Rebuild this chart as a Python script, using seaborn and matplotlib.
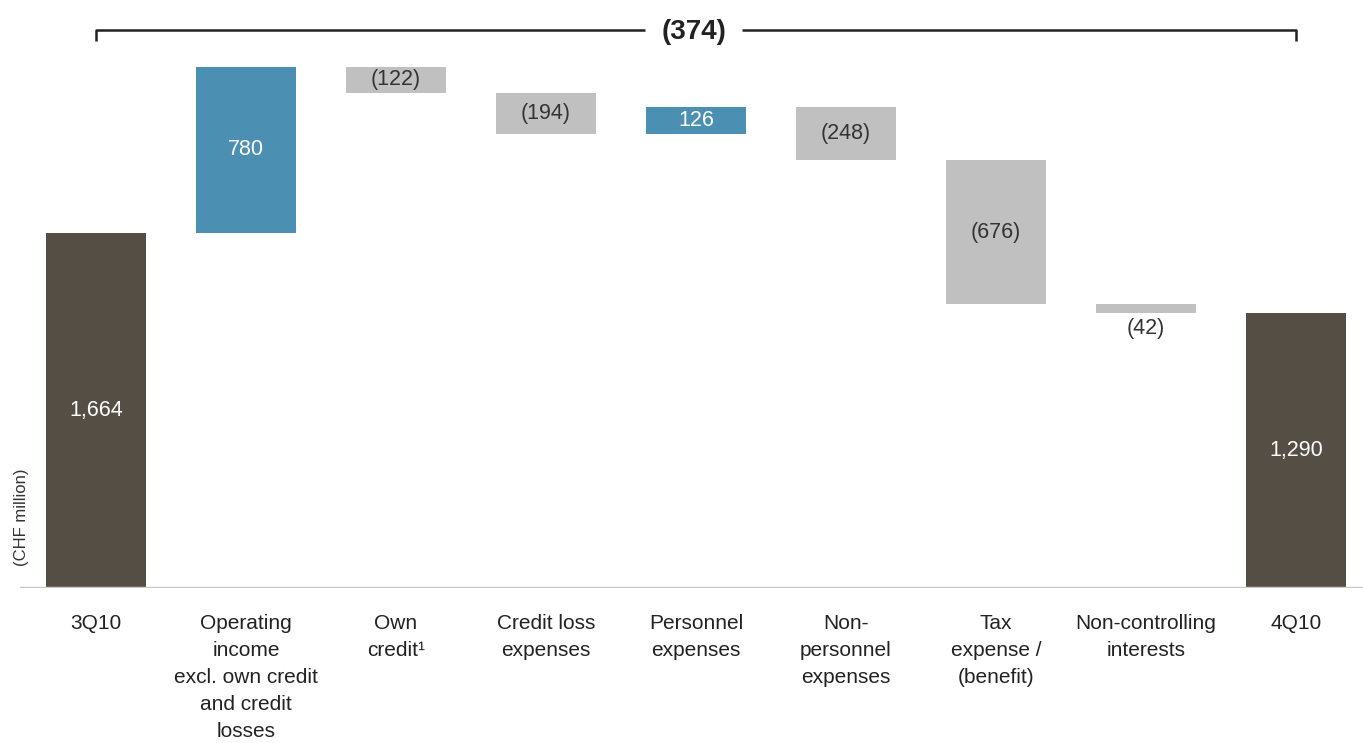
import matplotlib
matplotlib.use("Agg")
import matplotlib.pyplot as plt
import seaborn as sns
import numpy as np
import pandas as pd

# Waterfall: net income bridge 3Q10 -> 4Q10 (CHF million)
categories = [
    "3Q10",
    "Operating\nincome\nexcl. own credit\nand credit\nlosses",
    "Own\ncredit\u00b9",
    "Credit loss\nexpenses",
    "Personnel\nexpenses",
    "Non-\npersonnel\nexpenses",
    "Tax\nexpense /\n(benefit)",
    "Non-controlling\ninterests",
    "4Q10",
]
values = [1664, 780, -122, -194, 126, -248, -676, -42, 1290]
kinds = ["total", "change", "change", "change", "change", "change", "change", "change", "total"]
value_labels = ["1,664", "780", "(122)", "(194)", "126", "(248)", "(676)", "(42)", "1,290"]
net_change_label = "(374)"

dark = "#554e45"
blue = "#4b8fb3"
grey = "#c0c0c0"

# floating bar bottoms from running total
bottoms, heights = [], []
running = 0
for v, k in zip(values, kinds):
    if k == "total":
        bottoms.append(0)
        heights.append(v)
        running = v
    else:
        new = running + v
        bottoms.append(min(running, new))
        heights.append(abs(v))
        running = new

colors = []
for v, k in zip(values, kinds):
    if k == "total":
        colors.append(dark)
    elif v > 0:
        colors.append(blue)
    else:
        colors.append(grey)

df = pd.DataFrame({"cat": categories, "height": heights, "bottom": bottoms})

sns.set_theme(style="white")
plt.rcParams["font.family"] = ["Liberation Sans", "DejaVu Sans"]

fig = plt.figure(figsize=(13.63, 7.43), dpi=100)
ax = fig.add_axes([20 / 1363, 155 / 743, 1343 / 1363, 588 / 743])

sns.barplot(data=df, x="cat", y="height", order=categories, bottom=df["bottom"].values,
            width=0.667, color=grey, ax=ax, saturation=1)
for patch, c in zip(ax.patches, colors):
    patch.set_facecolor(c)
    patch.set_edgecolor("none")

# value labels
for i, (b, h, v, k, lab) in enumerate(zip(bottoms, heights, values, kinds, value_labels)):
    txt_color = "white" if (k == "total" or v > 0) else "#333333"
    if k == "change" and abs(v) < 60:
        # too thin, put label below the bar
        ax.text(i, b - 70, lab, ha="center", va="center", fontsize=15.5, color="#333333")
        continue
    ax.text(i, b + h / 2, lab, ha="center", va="center", fontsize=15.5, color=txt_color)

# bracket showing net change
ypx = 2616
ax.plot([0, 0, 3.66], [ypx - 50, ypx, ypx], color="#222222", lw=1.8, solid_capstyle="butt")
ax.plot([4.31, 8, 8], [ypx, ypx, ypx - 50], color="#222222", lw=1.8, solid_capstyle="butt")
ax.text(3.985, ypx - 8, net_change_label, ha="center", va="center", fontsize=20, fontweight="bold", color="#222222")

ax.axhline(0, color="#c8c8c8", lw=2.5, zorder=5)
ax.set_xlim(-0.507, 8.447)
ax.set_ylim(0, 2756)
ax.set_yticks([])
ax.set_xlabel("")
ax.set_ylabel("")
ax.tick_params(axis="x", length=0, pad=19, labelsize=15, colors="#222222")
for lbl in ax.get_xticklabels():
    lbl.set_linespacing(1.52)
for s in ax.spines.values():
    s.set_visible(False)

fig.text(22 / 1363, 1 - 517 / 743, "(CHF million)", rotation=90, ha="center", va="center",
         fontsize=12, color="#333333")

fig.savefig("out.png", dpi=100)
